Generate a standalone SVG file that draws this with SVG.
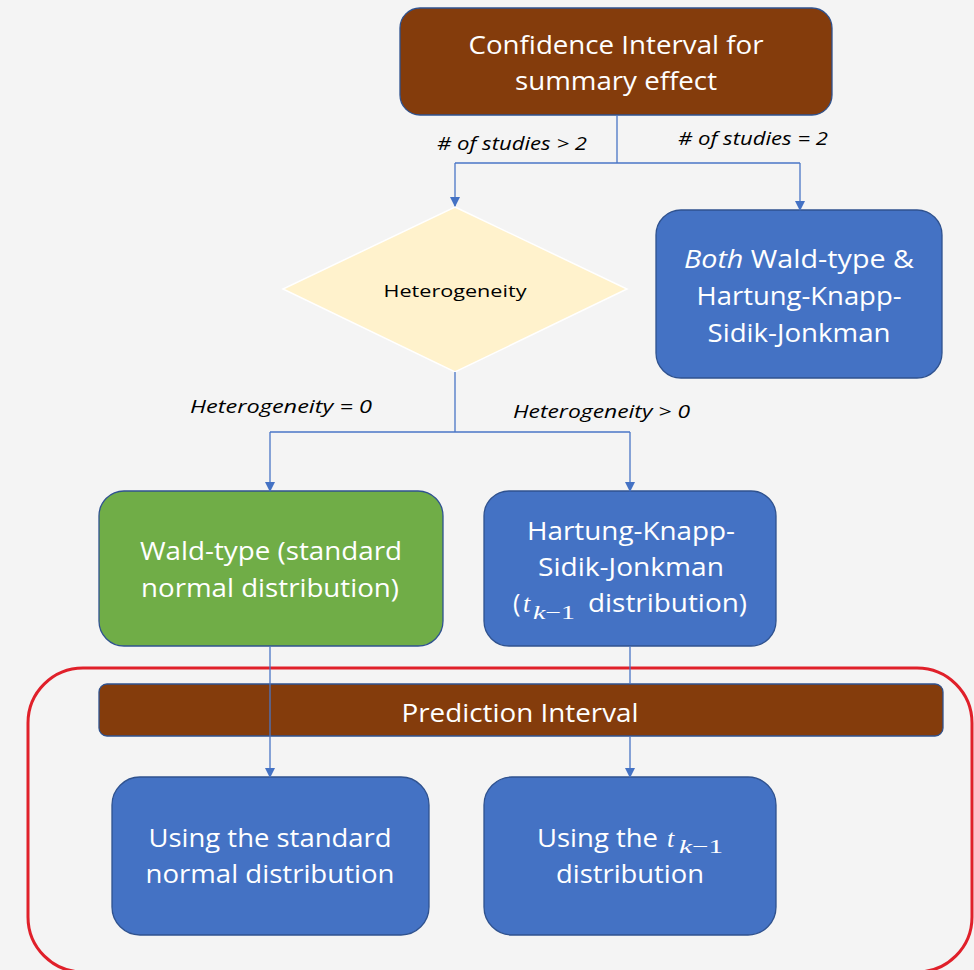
<svg xmlns="http://www.w3.org/2000/svg" width="974" height="970" viewBox="0 0 974 970">
<defs>
<style>
.bg{fill:#F4F4F4}
.brown{fill:#843C0C;stroke:#2F528F;stroke-width:1.3}
.blue{fill:#4472C4;stroke:#2F528F;stroke-width:1.3}
.green{fill:#70AD47;stroke:#2F528F;stroke-width:1.3}
.seg{font-family:"Open Sans","Liberation Sans",sans-serif;font-size:25px;fill:#fff;text-anchor:middle}
.cal{font-family:"Open Sans","Liberation Sans",sans-serif;font-size:25px;fill:#fff;text-anchor:start}
.calm{font-family:"Open Sans","Liberation Sans",sans-serif;font-size:25px;fill:#fff;text-anchor:middle}
.lbl{font-family:"Open Sans","Liberation Sans",sans-serif;font-size:18px;font-style:italic;fill:#000}
.math{font-family:"Liberation Serif",serif;font-style:italic}
.conn{fill:none;stroke:#4A76C6;stroke-width:1.3}
</style>
<marker id="arr" markerWidth="10" markerHeight="10" refX="9" refY="5" orient="auto" markerUnits="userSpaceOnUse">
<path d="M0,0 L10,5 L0,10 z" fill="#4472C4"/>
</marker>
</defs>
<rect class="bg" x="0" y="0" width="974" height="970"/>

<g id="red-frame">
<rect x="28" y="668" width="944" height="304" rx="55" ry="55" fill="none" stroke="#E0202A" stroke-width="3"/>
</g>

<g id="ci-summary">
<rect class="brown" x="400" y="8" width="432" height="107" rx="20" ry="20"/>
<text class="seg" x="616" y="54" textLength="295" lengthAdjust="spacingAndGlyphs">Confidence Interval for</text>
<text class="seg" x="616" y="90" textLength="202" lengthAdjust="spacingAndGlyphs">summary effect</text>
</g>

<g id="heterogeneity">
<polygon points="455,207 627,289 455,372 283,289" fill="#FFF2CC" stroke="#FFFFFF" stroke-width="1.5"/>
<text x="455" y="297" font-family="'Open Sans','Liberation Sans',sans-serif" font-size="17" fill="#000" text-anchor="middle" textLength="143" lengthAdjust="spacingAndGlyphs">Heterogeneity</text>
</g>

<g id="both">
<rect class="blue" x="656" y="210" width="286" height="168" rx="25" ry="25"/>
<text class="seg" x="799" y="268" textLength="230" lengthAdjust="spacingAndGlyphs"><tspan font-style="italic">Both</tspan> Wald-type &amp;</text>
<text class="seg" x="799" y="305" textLength="205" lengthAdjust="spacingAndGlyphs">Hartung-Knapp-</text>
<text class="seg" x="799" y="342" textLength="183" lengthAdjust="spacingAndGlyphs">Sidik-Jonkman</text>
</g>

<g id="wald">
<rect class="green" x="99" y="491" width="344" height="155" rx="25" ry="25"/>
<text class="calm" x="271" y="560" textLength="262" lengthAdjust="spacingAndGlyphs">Wald-type (standard</text>
<text class="calm" x="270" y="597" textLength="258" lengthAdjust="spacingAndGlyphs">normal distribution)</text>
</g>

<g id="hksj">
<rect class="blue" x="484" y="491" width="292" height="155" rx="25" ry="25"/>
<text class="calm" x="631" y="540" textLength="208" lengthAdjust="spacingAndGlyphs">Hartung-Knapp-</text>
<text class="calm" x="631" y="576" textLength="186" lengthAdjust="spacingAndGlyphs">Sidik-Jonkman</text>
<text class="cal" y="612"><tspan x="513">(</tspan><tspan class="math" x="523" font-size="26">t</tspan><tspan class="math" x="533" y="619" font-size="19" textLength="42" lengthAdjust="spacingAndGlyphs">k<tspan font-style="normal">−1</tspan></tspan><tspan x="588" y="612" textLength="159" lengthAdjust="spacingAndGlyphs">distribution)</tspan></text>
</g>

<g id="prediction">
<rect class="brown" x="99" y="684" width="844" height="52" rx="8" ry="8"/>
<text class="calm" x="520" y="722" textLength="237" lengthAdjust="spacingAndGlyphs">Prediction Interval</text>
</g>

<g id="pi-normal">
<rect class="blue" x="112" y="777" width="317" height="158" rx="28" ry="28"/>
<text class="calm" x="270" y="847" textLength="243" lengthAdjust="spacingAndGlyphs">Using the standard</text>
<text class="calm" x="270" y="883" textLength="249" lengthAdjust="spacingAndGlyphs">normal distribution</text>
</g>

<g id="pi-t">
<rect class="blue" x="484" y="777" width="292" height="158" rx="28" ry="28"/>
<text class="cal" y="847"><tspan x="537" textLength="121" lengthAdjust="spacingAndGlyphs">Using the</tspan><tspan class="math" x="667" font-size="26">t</tspan><tspan class="math" x="679" y="853" font-size="19" textLength="44" lengthAdjust="spacingAndGlyphs">k<tspan font-style="normal">−1</tspan></tspan></text>
<text class="calm" x="630" y="883" textLength="148" lengthAdjust="spacingAndGlyphs">distribution</text>
</g>

<g id="connectors">
<path class="conn" d="M617,115 V163 M455,163 H800"/>
<path class="conn" d="M455,163 V206" marker-end="url(#arr)"/>
<path class="conn" d="M800,163 V210" marker-end="url(#arr)"/>
<path class="conn" d="M455,372 V432 M270,432 H630"/>
<path class="conn" d="M270,432 V491" marker-end="url(#arr)"/>
<path class="conn" d="M630,432 V491" marker-end="url(#arr)"/>
<path class="conn" d="M270,646 V777" marker-end="url(#arr)"/>
<path class="conn" d="M630,646 V684 M630,736 V777" marker-end="url(#arr)"/>
<text class="lbl" x="437" y="150" textLength="150" lengthAdjust="spacingAndGlyphs"># of studies &gt; 2</text>
<text class="lbl" x="678" y="145" textLength="150" lengthAdjust="spacingAndGlyphs"># of studies = 2</text>
<text class="lbl" x="190" y="413" textLength="182" lengthAdjust="spacingAndGlyphs">Heterogeneity = 0</text>
<text class="lbl" x="513" y="418" textLength="177" lengthAdjust="spacingAndGlyphs">Heterogeneity &gt; 0</text>
</g>
</svg>
